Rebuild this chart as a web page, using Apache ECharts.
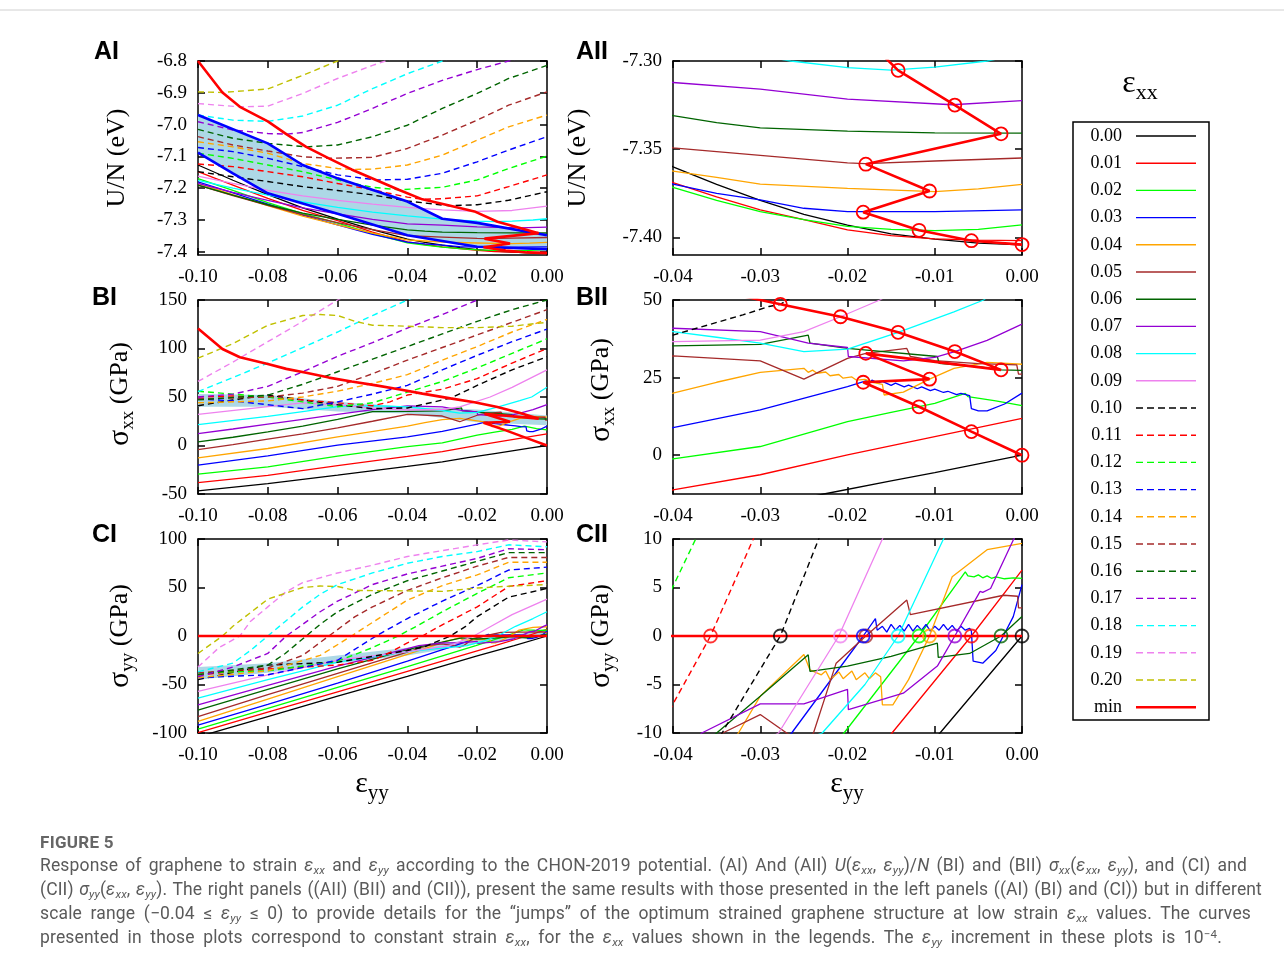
<!DOCTYPE html>
<html><head><meta charset="utf-8">
<script src="https://cdn.jsdelivr.net/npm/echarts@6.0.0/dist/echarts.min.js"></script>
<style>
html,body{margin:0;padding:0;background:#fff;}
#chart{position:absolute;left:0;top:0;width:1284px;height:969px;}
#cap{position:absolute;left:40px;top:831px;font-family:Roboto,"Noto Sans",sans-serif;color:#5a5a5a;font-size:17.5px;letter-spacing:0.15px;}
#cap .fig{font-size:17px;font-weight:bold;letter-spacing:0.3px;line-height:22px;color:#666;}
#cap .l{line-height:24px;white-space:nowrap;text-align:justify;text-align-last:justify;}
#cap sub{font-size:0.66em;vertical-align:-0.3em;line-height:0;}
#cap sup{font-size:0.66em;vertical-align:0.45em;line-height:0;}
</style>
</head><body>
<div id="chart"></div>
<div id="cap">
<div class="fig">FIGURE 5</div>
<div class="l" style="width:1207px">Response of graphene to strain <i>ε<sub>xx</sub></i> and <i>ε<sub>yy</sub></i> according to the CHON-2019 potential. (AI) And (AII) <i>U</i>(<i>ε<sub>xx</sub></i>, <i>ε<sub>yy</sub></i>)/<i>N</i> (BI) and (BII) <i>σ<sub>xx</sub></i>(<i>ε<sub>xx</sub></i>, <i>ε<sub>yy</sub></i>), and (CI) and</div>
<div class="l" style="width:1222px">(CII) <i>σ<sub>yy</sub></i>(<i>ε<sub>xx</sub></i>, <i>ε<sub>yy</sub></i>). The right panels ((AII) (BII) and (CII)), present the same results with those presented in the left panels ((AI) (BI) and (CI)) but in different</div>
<div class="l" style="width:1211px">scale range (−0.04 ≤ <i>ε<sub>yy</sub></i> ≤ 0) to provide details for the “jumps” of the optimum strained graphene structure at low strain <i>ε<sub>xx</sub></i> values. The curves</div>
<div class="l" style="width:1182px">presented in those plots correspond to constant strain <i>ε<sub>xx</sub></i>, for the <i>ε<sub>xx</sub></i> values shown in the legends. The <i>ε<sub>yy</sub></i> increment in these plots is 10<sup>−4</sup>.</div>
</div>
<script>
// ---------------- DATA ----------------
const exxLabels = ['0.00','0.01','0.02','0.03','0.04','0.05','0.06','0.07','0.08','0.09','0.10','0.11','0.12','0.13','0.14','0.15','0.16','0.17','0.18','0.19','0.20','min'];
const xTicksWide = [-0.10,-0.08,-0.06,-0.04,-0.02,0];
const xTicksNarrow = [-0.04,-0.03,-0.02,-0.01,0];
const yTicksAI = [-7.4,-7.3,-7.2,-7.1,-7.0,-6.9,-6.8];
const yTicksAII = [-7.40,-7.35,-7.30];
const yTicksBI = [-50,0,50,100,150];
const yTicksBII = [0,25,50];
const yTicksCI = [-100,-50,0,50,100];
const yTicksCII = [-10,-5,0,5,10];

// U/N (eV) vs eps_yy
const u00 = [[-0.10,-7.127],[-0.09,-7.175],[-0.08,-7.22],[-0.07,-7.262],[-0.06,-7.297],[-0.05,-7.33],[-0.04,-7.360],[-0.035,-7.370],[-0.03,-7.379],[-0.025,-7.387],[-0.02,-7.393],[-0.015,-7.398],[-0.01,-7.401],[-0.005,-7.4033],[0,-7.4043]];
const u01 = [[-0.10,-7.148],[-0.09,-7.19],[-0.08,-7.232],[-0.07,-7.27],[-0.06,-7.302],[-0.05,-7.338],[-0.04,-7.369],[-0.035,-7.377],[-0.03,-7.3844],[-0.025,-7.390],[-0.02,-7.3957],[-0.015,-7.399],[-0.01,-7.4009],[-0.005,-7.4016],[0,-7.4019]];
const u02 = [[-0.10,-7.17],[-0.09,-7.207],[-0.08,-7.245],[-0.07,-7.28],[-0.06,-7.31],[-0.05,-7.343],[-0.04,-7.3717],[-0.035,-7.379],[-0.03,-7.3854],[-0.025,-7.390],[-0.02,-7.3938],[-0.015,-7.3955],[-0.01,-7.3962],[-0.005,-7.3955],[0,-7.3929]];
const u03 = [[-0.10,-7.18],[-0.09,-7.215],[-0.08,-7.25],[-0.07,-7.285],[-0.06,-7.315],[-0.05,-7.345],[-0.04,-7.3698],[-0.035,-7.375],[-0.03,-7.3788],[-0.025,-7.3835],[-0.02,-7.3854],[-0.01,-7.3854],[0,-7.3844]];
const u04 = [[-0.10,-7.185],[-0.09,-7.22],[-0.08,-7.255],[-0.07,-7.288],[-0.06,-7.315],[-0.05,-7.341],[-0.04,-7.3625],[-0.035,-7.366],[-0.03,-7.3698],[-0.02,-7.3722],[-0.01,-7.3741],[-0.005,-7.3725],[0,-7.370]];
const u05 = [[-0.10,-7.19],[-0.09,-7.223],[-0.08,-7.254],[-0.07,-7.283],[-0.06,-7.308],[-0.05,-7.33],[-0.04,-7.3493],[-0.03,-7.3535],[-0.02,-7.3578],[-0.018,-7.3582],[-0.01,-7.3567],[0,-7.355]];
const u06 = [[-0.10,-7.19],[-0.09,-7.222],[-0.08,-7.252],[-0.07,-7.278],[-0.06,-7.298],[-0.05,-7.316],[-0.04,-7.331],[-0.035,-7.335],[-0.03,-7.3379],[-0.02,-7.3398],[-0.01,-7.3407],[0,-7.3409]];
const u07 = [[-0.10,-7.185],[-0.09,-7.213],[-0.08,-7.238],[-0.07,-7.262],[-0.06,-7.281],[-0.05,-7.298],[-0.04,-7.3122],[-0.03,-7.316],[-0.02,-7.3216],[-0.008,-7.3248],[0,-7.3225]];
const u08 = [[-0.10,-7.175],[-0.09,-7.2],[-0.08,-7.222],[-0.07,-7.243],[-0.06,-7.26],[-0.05,-7.275],[-0.04,-7.287],[-0.03,-7.297],[-0.0265,-7.30],[-0.02,-7.3037],[-0.015,-7.3052],[-0.01,-7.3035],[-0.004,-7.30],[0,-7.296]];
const u09 = [[-0.10,-7.162],[-0.09,-7.185],[-0.08,-7.207],[-0.07,-7.224],[-0.06,-7.238],[-0.05,-7.25],[-0.04,-7.26],[-0.03,-7.268],[-0.02,-7.273],[-0.01,-7.27],[0,-7.256]];
const u10 = [[-0.10,-7.148],[-0.09,-7.164],[-0.08,-7.179],[-0.07,-7.195],[-0.06,-7.207],[-0.05,-7.221],[-0.04,-7.240],[-0.03,-7.253],[-0.0277,-7.255],[-0.02,-7.252],[-0.011,-7.238],[0,-7.211]];
const u11 = [[-0.10,-7.124],[-0.09,-7.132],[-0.08,-7.148],[-0.07,-7.164],[-0.06,-7.185],[-0.05,-7.205],[-0.04,-7.228],[-0.0357,-7.235],[-0.03,-7.233],[-0.02,-7.224],[-0.011,-7.195],[0,-7.158]];
const u12 = [[-0.10,-7.09],[-0.09,-7.106],[-0.08,-7.127],[-0.07,-7.148],[-0.06,-7.174],[-0.05,-7.197],[-0.0425,-7.205],[-0.03,-7.197],[-0.02,-7.174],[-0.011,-7.138],[0,-7.099]];
const u13 = [[-0.10,-7.072],[-0.09,-7.085],[-0.08,-7.106],[-0.07,-7.132],[-0.06,-7.158],[-0.049,-7.174],[-0.04,-7.172],[-0.03,-7.153],[-0.02,-7.117],[-0.011,-7.08],[0,-7.038]];
const u14 = [[-0.10,-7.054],[-0.09,-7.07],[-0.08,-7.09],[-0.07,-7.122],[-0.06,-7.138],[-0.056,-7.141],[-0.05,-7.14],[-0.04,-7.127],[-0.03,-7.096],[-0.02,-7.049],[-0.011,-7.007],[0,-6.97]];
const u15 = [[-0.10,-7.038],[-0.09,-7.064],[-0.08,-7.083],[-0.07,-7.101],[-0.0625,-7.106],[-0.05,-7.103],[-0.04,-7.075],[-0.03,-7.033],[-0.02,-6.986],[-0.011,-6.939],[0,-6.897]];
const u16 = [[-0.10,-7.015],[-0.09,-7.043],[-0.08,-7.059],[-0.069,-7.07],[-0.06,-7.064],[-0.05,-7.038],[-0.04,-7.002],[-0.03,-6.949],[-0.02,-6.902],[-0.011,-6.855],[0,-6.814]];
const u17 = [[-0.10,-6.991],[-0.09,-7.017],[-0.08,-7.028],[-0.0747,-7.03],[-0.07,-7.025],[-0.06,-6.993],[-0.05,-6.949],[-0.04,-6.902],[-0.03,-6.861],[-0.02,-6.827],[-0.011,-6.80],[0,-6.77]];
const u18 = [[-0.10,-6.97],[-0.09,-6.986],[-0.08,-6.99],[-0.07,-6.973],[-0.06,-6.939],[-0.05,-6.887],[-0.04,-6.84],[-0.03,-6.80],[-0.02,-6.76]];
const u19 = [[-0.10,-6.934],[-0.088,-6.944],[-0.08,-6.942],[-0.07,-6.902],[-0.06,-6.855],[-0.05,-6.814],[-0.045,-6.795],[-0.04,-6.78]];
const u20 = [[-0.10,-6.897],[-0.093,-6.899],[-0.08,-6.888],[-0.07,-6.845],[-0.06,-6.80],[-0.05,-6.75]];

// sigma_xx (GPa)
const s00 = [[-0.10,-46.8],[-0.08,-39.3],[-0.06,-30.5],[-0.04,-21.5],[-0.03,-16.8],[-0.0227,-12.5],[-0.015,-8.3],[-0.01,-5.6],[-0.005,-2.8],[0,0]];
const s01 = [[-0.10,-38.2],[-0.08,-30.7],[-0.06,-20.8],[-0.04,-11.2],[-0.03,-6.3],[-0.02,0.1],[-0.01,6.0],[0,11.9]];
const s02 = [[-0.10,-29.6],[-0.08,-22.1],[-0.06,-11],[-0.04,-1.2],[-0.03,2.8],[-0.02,10.8],[-0.015,13.8],[-0.01,16.7],[-0.0065,19.9],[-0.0062,18.9],[-0.003,17.5],[0,16]];
const s03 = [[-0.10,-20.3],[-0.08,-10.7],[-0.06,0.3],[-0.04,8.9],[-0.03,14.6],[-0.02,22.1],[-0.0178,24],[-0.0176,22.8],[-0.0172,24.2],[-0.0165,23.2],[-0.016,23.8],[-0.015,22.5],[-0.0145,23.2],[-0.0135,22.0],[-0.013,22.6],[-0.012,21.4],[-0.0115,22.0],[-0.0105,20.8],[-0.01,21.3],[-0.009,20.2],[-0.0085,20.6],[-0.0075,19.5],[-0.007,19.9],[-0.006,19.2],[-0.0058,15.0],[-0.005,14.3],[-0.004,14.3],[-0.002,16.5],[0,20]];
const s04 = [[-0.10,-12.8],[-0.08,-3.1],[-0.06,8.9],[-0.04,20],[-0.035,23.5],[-0.03,26.7],[-0.025,28],[-0.0245,26.7],[-0.024,27.4],[-0.0235,26.4],[-0.0225,26.8],[-0.022,25.6],[-0.021,26.0],[-0.0205,24.8],[-0.0195,25.2],[-0.019,24.2],[-0.018,24.4],[-0.017,23.4],[-0.016,22.8],[-0.0158,19.4],[-0.0136,20.3],[-0.0106,24.5],[-0.0078,28],[-0.004,29.9],[0,29.3]];
const s05 = [[-0.10,-4.2],[-0.09,1],[-0.08,6.5],[-0.07,12],[-0.06,18.2],[-0.05,25],[-0.04,32],[-0.03,30.4],[-0.025,24.5],[-0.02,31.2],[-0.0179,32.8],[-0.0132,34.4],[-0.0128,31.8],[-0.01,30.5],[-0.005,29.5],[-0.0006,29.1],[-0.0004,26.1],[0,26.1]];
const s06 = [[-0.10,3.7],[-0.09,8.5],[-0.08,14],[-0.07,20],[-0.06,27],[-0.05,35],[-0.04,35.2],[-0.03,35.7],[-0.0245,38.7],[-0.0243,36.1],[-0.02,34.4],[-0.0097,31.8],[-0.0095,29.6],[-0.005,28.5],[-0.0024,27.5],[0,27.3]];
const s07 = [[-0.10,12.3],[-0.09,17],[-0.08,22],[-0.07,27],[-0.06,32],[-0.05,37],[-0.04,40.9],[-0.03,39.8],[-0.0245,36.1],[-0.02,34.7],[-0.0199,31.8],[-0.0136,30.4],[-0.01,31.5],[-0.0077,33.4],[-0.004,37],[0,42.2]];
const s08 = [[-0.10,21.6],[-0.08,30],[-0.07,35],[-0.06,40],[-0.05,41],[-0.04,39.8],[-0.035,38],[-0.03,36.1],[-0.025,33.4],[-0.02,34.2],[-0.0142,39.6],[-0.0078,46.2],[-0.0044,50],[0,60]];
const s09 = [[-0.10,32],[-0.08,40],[-0.07,44],[-0.06,42],[-0.05,38.5],[-0.04,36.6],[-0.03,37.1],[-0.025,39.8],[-0.0208,44.6],[-0.0163,50],[-0.01,60],[0,78]];
const s10 = [[-0.10,41],[-0.09,47],[-0.08,52],[-0.07,47],[-0.06,42],[-0.05,38],[-0.04,38.7],[-0.032,45.2],[-0.029,47.9],[-0.0277,48.6],[-0.02,62],[-0.01,78],[0,91.5]];
const s11 = [[-0.10,50],[-0.09,51],[-0.08,50],[-0.07,47],[-0.06,44],[-0.05,41],[-0.045,45],[-0.04,52],[-0.03,58],[-0.02,69],[-0.01,85],[0,100]];
const s12 = [[-0.10,56],[-0.09,53],[-0.08,50],[-0.07,45],[-0.06,40],[-0.05,44],[-0.04,55],[-0.03,66],[-0.02,80],[-0.01,95],[0,110]];
const s13 = [[-0.10,48],[-0.09,46],[-0.08,42],[-0.07,38],[-0.06,45],[-0.05,53],[-0.04,62],[-0.03,78],[-0.02,93],[-0.01,107],[0,120]];
const s14 = [[-0.10,44],[-0.08,46],[-0.07,50],[-0.06,56],[-0.05,64],[-0.04,73],[-0.03,88],[-0.02,102],[-0.01,117],[0,130]];
const s15 = [[-0.10,48],[-0.08,50],[-0.07,54],[-0.06,61],[-0.05,74],[-0.04,88],[-0.03,101],[-0.02,114],[-0.01,127],[0,140]];
const s16 = [[-0.10,47],[-0.08,52],[-0.07,63],[-0.06,76],[-0.05,89],[-0.04,102],[-0.03,115],[-0.02,128],[-0.01,140],[0,150]];
const s17 = [[-0.10,50],[-0.09,53],[-0.08,61],[-0.07,76],[-0.06,92],[-0.05,106],[-0.04,121],[-0.03,135],[-0.02,150],[-0.01,165]];
const s18 = [[-0.10,55.6],[-0.09,70],[-0.08,85],[-0.07,101],[-0.06,117],[-0.05,134],[-0.04,150],[-0.03,165]];
const s19 = [[-0.10,66],[-0.09,86],[-0.08,107],[-0.07,128],[-0.06,150],[-0.05,170]];
const s20 = [[-0.10,90],[-0.09,105],[-0.08,124],[-0.07,134],[-0.065,135],[-0.06,134],[-0.055,128],[-0.05,124],[-0.04,123],[-0.03,121.5],[-0.02,121.5],[-0.01,123],[0,127]];

// sigma_yy (GPa)
const c00 = [[-0.10,-104],[-0.08,-83],[-0.06,-62],[-0.04,-41.5],[-0.02,-20.5],[-0.0094,-10],[0,0]];
const c01 = [[-0.10,-99.5],[-0.08,-78.5],[-0.06,-57.5],[-0.04,-36.5],[-0.0149,-10],[-0.0058,0],[0,6.8]];
const c02 = [[-0.10,-96],[-0.08,-74.5],[-0.06,-53],[-0.04,-31.5],[-0.0204,-10],[-0.0118,0],[-0.0065,6.6],[-0.0062,6.2],[-0.006,6.4],[-0.0055,6.1],[-0.005,6.3],[-0.0045,6.0],[-0.004,6.2],[-0.0035,5.95],[-0.003,6.1],[-0.002,5.9],[-0.001,6.0],[0,5.95]];
const c03 = [[-0.10,-92],[-0.08,-70.5],[-0.06,-48.5],[-0.04,-26],[-0.0264,-10],[-0.0182,0],[-0.0168,1.8],[-0.0166,0.6],[-0.016,1.0],[-0.0155,0.4],[-0.015,1.2],[-0.0145,0.6],[-0.014,1.1],[-0.0135,0.5],[-0.013,1.2],[-0.0125,0.5],[-0.012,1.1],[-0.0115,0.6],[-0.011,1.2],[-0.0105,0.5],[-0.01,1.0],[-0.0095,0.6],[-0.009,1.2],[-0.0085,0.6],[-0.008,1.1],[-0.0075,0.5],[-0.007,1.0],[-0.0065,0.6],[-0.006,0.8],[-0.0058,0.5],[-0.0056,-2.6],[-0.0045,-2.8],[-0.003,-1.5],[-0.001,2.0],[0,5.3]];
const c04 = [[-0.10,-88],[-0.08,-65],[-0.06,-42],[-0.04,-19],[-0.0325,-10],[-0.03,-6.2],[-0.025,-1.9],[-0.0243,-3.5],[-0.023,-4.0],[-0.0225,-3.6],[-0.022,-4.5],[-0.021,-3.7],[-0.0205,-4.4],[-0.0195,-3.6],[-0.019,-4.5],[-0.018,-3.8],[-0.0175,-4.4],[-0.0168,-3.8],[-0.0162,-4.2],[-0.016,-7.1],[-0.0148,-7.1],[-0.013,-4.5],[-0.0106,0],[-0.008,6.1],[-0.004,8.9],[0,9.55]];
const c05 = [[-0.10,-83],[-0.08,-60.5],[-0.06,-38.5],[-0.04,-16.5],[-0.0343,-10],[-0.03,-8.1],[-0.0265,-10.3],[-0.025,-11.5],[-0.0239,-10],[-0.0213,-2.8],[-0.0179,0],[-0.0132,3.7],[-0.0128,2.2],[-0.0021,4.2],[-0.0005,4.1],[-0.0004,2.9],[0,2.9]];
const c06 = [[-0.10,-76.5],[-0.08,-55],[-0.06,-34],[-0.04,-14],[-0.035,-10],[-0.03,-6.2],[-0.0245,-1.94],[-0.0243,-3.65],[-0.02,-3.1],[-0.015,-2.1],[-0.0097,-0.74],[-0.0096,-2.2],[-0.006,-1.8],[-0.0024,0],[0,2.0]];
const c07 = [[-0.10,-71],[-0.08,-51],[-0.06,-31],[-0.04,-13],[-0.0367,-10],[-0.03,-7.0],[-0.025,-7.0],[-0.02,-5.5],[-0.0199,-7.6],[-0.0136,-5.9],[-0.0097,-3.1],[-0.0077,0],[-0.0048,4.6],[-0.0045,4.5],[-0.0036,4.9],[-0.001,9.9],[0,11.5]];
const c08 = [[-0.10,-64],[-0.08,-45],[-0.06,-27],[-0.04,-16],[-0.03,-12.5],[-0.0229,-10],[-0.018,-5],[-0.0142,0],[-0.009,10],[-0.004,18],[0,25]];
const c09 = [[-0.10,-57],[-0.08,-40],[-0.06,-25],[-0.04,-16],[-0.0279,-10],[-0.021,0],[-0.016,10],[-0.01,22],[0,38]];
const c10 = [[-0.10,-45],[-0.08,-30],[-0.06,-27],[-0.04,-15],[-0.035,-11],[-0.0338,-9.1],[-0.0277,0],[-0.0233,10],[-0.02,20],[-0.011,40],[0,49]];
const c11 = [[-0.10,-40],[-0.08,-34],[-0.06,-30],[-0.05,-25],[-0.045,-17],[-0.04,-7],[-0.0357,0],[-0.0308,10],[-0.02,30],[-0.011,51],[0,57]];
const c12 = [[-0.10,-38],[-0.08,-36],[-0.06,-26],[-0.05,-12],[-0.0427,0],[-0.04,5.1],[-0.0374,10],[-0.03,25],[-0.02,44],[-0.011,60],[0,65]];
const c13 = [[-0.10,-43],[-0.08,-40],[-0.06,-25],[-0.049,0],[-0.04,18],[-0.03,36],[-0.02,52],[-0.011,68],[0,71]];
const c14 = [[-0.10,-43],[-0.08,-36],[-0.065,-20],[-0.056,0],[-0.05,14],[-0.04,37],[-0.03,52],[-0.02,63],[-0.011,76],[0,76]];
const c15 = [[-0.10,-38],[-0.08,-33],[-0.07,-20],[-0.0625,0],[-0.055,20],[-0.05,30],[-0.04,47],[-0.03,60],[-0.02,72],[-0.011,81],[0,81]];
const c16 = [[-0.10,-40],[-0.08,-30],[-0.075,-18],[-0.069,0],[-0.065,12],[-0.06,25],[-0.05,43],[-0.04,57],[-0.03,67],[-0.02,77],[-0.011,86],[0,86]];
const c17 = [[-0.10,-42],[-0.09,-32],[-0.08,-18],[-0.0747,0],[-0.07,12],[-0.065,25],[-0.06,36],[-0.05,53],[-0.04,64],[-0.03,72],[-0.02,80],[-0.011,90],[0,89]];
const c18 = [[-0.10,-37],[-0.09,-28],[-0.085,-15],[-0.08,0],[-0.075,15],[-0.07,30],[-0.065,43],[-0.06,53],[-0.05,65],[-0.04,75],[-0.03,82],[-0.02,87],[-0.011,94],[0,92]];
const c19 = [[-0.10,-32],[-0.094,-12],[-0.088,0],[-0.085,15],[-0.08,30],[-0.075,45],[-0.07,55],[-0.06,65],[-0.05,73],[-0.04,82],[-0.03,88],[-0.02,94],[-0.011,99],[0,97]];
const c20 = [[-0.10,-18],[-0.093,0],[-0.09,10],[-0.08,38],[-0.07,50],[-0.065,51.5],[-0.06,51],[-0.055,47],[-0.04,46.5],[-0.03,46],[-0.02,49.5],[-0.01,51.5],[0,53]];

// optimum (minimum-energy) path: first point, then eps_xx = 0.20 ... 0.00
const minEyy = [-0.100,-0.093,-0.088,-0.080,-0.0747,-0.069,-0.0625,-0.056,-0.049,-0.0425,-0.0357,-0.0277,-0.0208,-0.0142,-0.0077,-0.0024,-0.0179,-0.0106,-0.0182,-0.0118,-0.0058,0];
const minU = [-6.80,-6.899,-6.944,-6.99,-7.03,-7.07,-7.106,-7.141,-7.174,-7.205,-7.235,-7.255,-7.273,-7.3053,-7.325,-7.3413,-7.3585,-7.3737,-7.3857,-7.396,-7.4019,-7.4041];
const minSxx = [120.7,99.5,91,84,79,75,70,66,62,58,53.5,48.6,44.6,39.6,33.4,27.5,32.8,24.5,23.5,15.6,7.6,0];
const minSyy = [0,0,0,0,0,0,0,0,0,0,0,0,0,0,0,0,0,0,0,0,0,0];
const minExxIndex = [21,20,19,18,17,16,15,14,13,12,11,10,9,8,7,6,5,4,3,2,1,0];

// shaded regions
const bandUUpper = [[-0.10,-6.97],[-0.08,-7.059],[-0.07,-7.127],[-0.06,-7.169],[-0.04,-7.242],[-0.03,-7.296],[-0.02,-7.309],[0,-7.348]];
const bandULower = [[-0.10,-7.088],[-0.09,-7.153],[-0.08,-7.216],[-0.06,-7.28],[-0.04,-7.348],[-0.02,-7.384],[0,-7.392]];
const bandSxxUpper = [[-0.10,53],[-0.08,52],[-0.06,45],[-0.04,40],[-0.02,37],[0,31]];
const bandSxxLower = [[-0.10,40],[-0.08,40],[-0.06,35],[-0.04,33],[-0.02,24],[0,21]];
const bandSyyUpper = [[-0.10,-32],[-0.08,-28],[-0.06,-20],[-0.04,-12],[-0.02,-3],[0,6]];
const bandSyyLower = [[-0.10,-45],[-0.08,-38],[-0.06,-28],[-0.04,-20],[-0.02,-8],[0,0]];

const uCurves = [u00,u01,u02,u03,u04,u05,u06,u07,u08,u09,u10,u11,u12,u13,u14,u15,u16,u17,u18,u19,u20];
const sxxCurves = [s00,s01,s02,s03,s04,s05,s06,s07,s08,s09,s10,s11,s12,s13,s14,s15,s16,s17,s18,s19,s20];
const syyCurves = [c00,c01,c02,c03,c04,c05,c06,c07,c08,c09,c10,c11,c12,c13,c14,c15,c16,c17,c18,c19,c20];

// ---------------- STYLE / LAYOUT ----------------
const baseColors = ['#000000','#ff0000','#00ff00','#0000ff','#ffa500','#a52a2a','#006400','#9400d3','#00ffff','#ee82ee'];
const colorOf = i => i === 21 ? '#ff0000' : (i === 20 ? '#c0c000' : baseColors[i % 10]);
const DASH = [6,4];
const SERIF = '"Liberation Serif","DejaVu Serif",serif';

const panels = [
  {grid:{left:198,top:61,width:349,height:194}, xr:[-0.10,0], xt:xTicksWide, yr:[-7.41,-6.8], yt:yTicksAI, yd:1, curves:uCurves, minY:minU, band:[bandUUpper,bandULower], circles:null},
  {grid:{left:673,top:61,width:349,height:194}, xr:[-0.04,0], xt:xTicksNarrow, yr:[-7.41,-7.30], yt:yTicksAII, yd:2, curves:uCurves, minY:minU, band:null, circles:'red'},
  {grid:{left:198,top:300,width:349,height:194}, xr:[-0.10,0], xt:xTicksWide, yr:[-50,150], yt:yTicksBI, yd:0, curves:sxxCurves, minY:minSxx, band:[bandSxxUpper,bandSxxLower], circles:null},
  {grid:{left:673,top:300,width:349,height:194}, xr:[-0.04,0], xt:xTicksNarrow, yr:[-12.5,50], yt:yTicksBII, yd:0, curves:sxxCurves, minY:minSxx, band:null, circles:'red'},
  {grid:{left:198,top:539,width:349,height:194}, xr:[-0.10,0], xt:xTicksWide, yr:[-100,100], yt:yTicksCI, yd:0, curves:syyCurves, minY:minSyy, band:[bandSyyUpper,bandSyyLower], circles:null},
  {grid:{left:673,top:539,width:349,height:194}, xr:[-0.04,0], xt:xTicksNarrow, yr:[-10,10], yt:yTicksCII, yd:0, curves:syyCurves, minY:minSyy, band:null, circles:'colored'}
];

const grids = [], xAxes = [], yAxes = [], series = [];
const axisLine = {show:true, onZero:false, lineStyle:{color:'#000', width:1.5}};
panels.forEach((p, k) => {
  grids.push(Object.assign({containLabel:false}, p.grid));
  const tickX = {show:true, inside:true, length:7, customValues:p.xt, lineStyle:{color:'#000', width:1.5}};
  const tickY = {show:true, inside:true, length:7, customValues:p.yt, lineStyle:{color:'#000', width:1.5}};
  xAxes.push({type:'value', gridIndex:k, position:'bottom', min:p.xr[0], max:p.xr[1], axisLine, axisTick:tickX, splitLine:{show:false},
    axisLabel:{show:true, customValues:p.xt, margin:13, fontFamily:SERIF, fontSize:19, color:'#000', formatter:v => v.toFixed(2)}});
  xAxes.push({type:'value', gridIndex:k, position:'top', min:p.xr[0], max:p.xr[1], axisLine, axisTick:tickX, splitLine:{show:false}, axisLabel:{show:false}});
  yAxes.push({type:'value', gridIndex:k, position:'left', min:p.yr[0], max:p.yr[1], axisLine, axisTick:tickY, splitLine:{show:false},
    axisLabel:{show:true, customValues:p.yt, margin:11, fontFamily:SERIF, fontSize:19, color:'#000', formatter:v => v.toFixed(p.yd)}});
  yAxes.push({type:'value', gridIndex:k, position:'right', min:p.yr[0], max:p.yr[1], axisLine, axisTick:tickY, splitLine:{show:false}, axisLabel:{show:false}});
  const xi = 2*k, yi = 2*k;

  if (p.band) {
    const up = p.band[0], lo = p.band[1];
    series.push({type:'custom', xAxisIndex:xi, yAxisIndex:yi, data:up, z:1, silent:true, clip:true, animation:false,
      renderItem:(params, api) => {
        if (params.dataIndex !== 0) return null;
        const pts = up.concat(lo.slice().reverse()).map(d => api.coord(d));
        return {type:'polygon', shape:{points:pts}, style:{fill:'#add8e6', stroke:null}};
      }});
  }
  p.curves.forEach((arr, i) => {
    series.push({type:'line', xAxisIndex:xi, yAxisIndex:yi, data:arr, symbol:'none', showSymbol:false, silent:true, z:2, clip:true, animation:false,
      lineStyle:{color:colorOf(i), width: i >= 10 ? 1.4 : 1.3, type: i >= 10 ? DASH : 'solid'}});
  });
  if (k === 0) {
    [bandUUpper, bandULower].forEach(b => series.push({type:'line', xAxisIndex:xi, yAxisIndex:yi, data:b, symbol:'none', silent:true, z:3, clip:true, animation:false,
      lineStyle:{color:'#0000ff', width:2.6}}));
  }
  const minData = minEyy.map((x, i) => [x, p.minY[i]]);
  const minS = {type:'line', xAxisIndex:xi, yAxisIndex:yi, data:minData, silent:true, z:4, clip:true, animation:false,
    lineStyle:{color:'#ff0000', width:2.6}, symbol:'none', showSymbol:false};
  if (p.circles === 'red') {
    minS.symbol = 'circle'; minS.showSymbol = true; minS.symbolSize = 13;
    minS.itemStyle = {color:'rgba(255,255,255,0)', borderColor:'#ff0000', borderWidth:1.8};
  }
  series.push(minS);
  if (p.circles === 'colored') {
    series.push({type:'scatter', xAxisIndex:xi, yAxisIndex:yi, silent:true, z:5, clip:true, animation:false, symbol:'circle', symbolSize:13,
      data: minEyy.map((x, i) => ({value:[x, minSyy[i]], itemStyle:{color:'rgba(255,255,255,0)', borderColor:colorOf(minExxIndex[i]), borderWidth:1.8}}))});
  }
});

// ---------------- TEXT / LEGEND GRAPHICS ----------------
const mctx = document.createElement('canvas').getContext('2d');
function tw(text, font) { mctx.font = font; return mctx.measureText(text).width; }
function subLabel(cx, cy, parts, rot) {
  const fonts = parts.map(p => p[1] + 'px ' + SERIF);
  const ws = parts.map((p, i) => tw(p[0], fonts[i]));
  const total = ws.reduce((a, b) => a + b, 0);
  let off = -total / 2;
  const children = parts.map((p, i) => {
    const el = {type:'text', x:off, y:p[2], silent:true, style:{text:p[0], font:fonts[i], fill:'#000', textAlign:'left', textVerticalAlign:'middle'}};
    off += ws[i];
    return el;
  });
  return {type:'group', x:cx, y:cy, rotation:rot, silent:true, children};
}
const R = Math.PI / 2;
const graphics = [
  {type:'line', silent:true, shape:{x1:0, y1:10, x2:1284, y2:10}, style:{stroke:'#d0d0d0', lineWidth:1}},
  subLabel(117, 158, [['U/N (eV)', 26, 0]], R),
  subLabel(578, 158, [['U/N (eV)', 26, 0]], R),
  subLabel(120, 394, [['σ', 30, 0], ['xx', 19, 8], [' (GPa)', 26, 0]], R),
  subLabel(601, 390, [['σ', 30, 0], ['xx', 19, 8], [' (GPa)', 26, 0]], R),
  subLabel(120, 636, [['σ', 30, 0], ['yy', 19, 8], [' (GPa)', 26, 0]], R),
  subLabel(601, 636, [['σ', 30, 0], ['yy', 19, 8], [' (GPa)', 26, 0]], R),
  subLabel(372, 784, [['ε', 30, 0], ['yy', 21, 9]], 0),
  subLabel(847, 784, [['ε', 30, 0], ['yy', 21, 9]], 0),
  subLabel(1140, 84, [['ε', 32, 0], ['xx', 22, 9]], 0)
];
[['AI',94,52],['AII',576,52],['BI',92,298],['BII',576,298],['CI',92,535],['CII',576,535]].forEach(l => {
  graphics.push({type:'text', x:l[1], y:l[2], silent:true, style:{text:l[0], font:'bold 25px "Liberation Sans",Arial,sans-serif', fill:'#000', textAlign:'left', textVerticalAlign:'middle'}});
});
graphics.push({type:'rect', silent:true, shape:{x:1073, y:122, width:136, height:598}, style:{fill:'none', stroke:'#000', lineWidth:1.5}});
exxLabels.forEach((lab, i) => {
  const y = 136 + i * 27.2;
  graphics.push({type:'text', x:1122, y:y, silent:true, style:{text:lab, font:'18px ' + SERIF, fill:'#000', textAlign:'right', textVerticalAlign:'middle'}});
  graphics.push({type:'line', silent:true, shape:{x1:1136, y1:y, x2:1196, y2:y},
    style:{stroke:colorOf(i), lineWidth: i === 21 ? 2.6 : 1.4, lineDash: (i >= 10 && i < 21) ? [7,4] : null}});
});

const chart = echarts.init(document.getElementById('chart'), null, {renderer:'canvas'});
chart.setOption({
  animation:false,
  backgroundColor:'#ffffff',
  grid:grids, xAxis:xAxes, yAxis:yAxes, series:series, graphic:graphics
});
</script>
</body></html>
